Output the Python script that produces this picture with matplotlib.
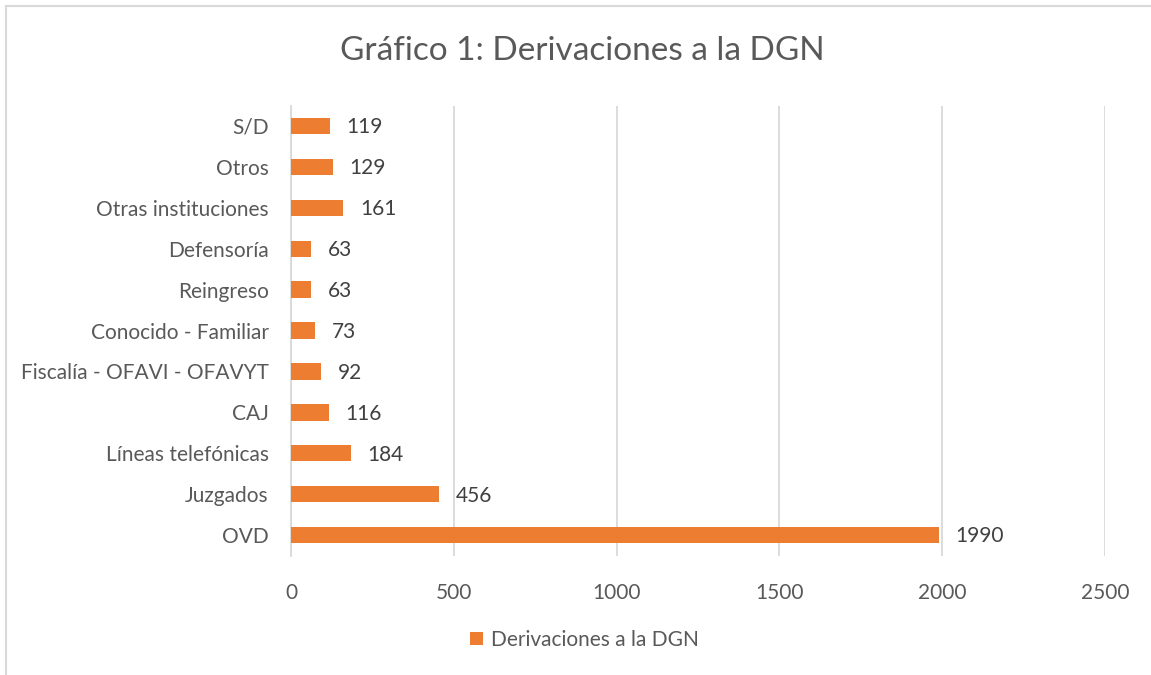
import matplotlib.pyplot as plt
from matplotlib.patches import Rectangle

# datos del gráfico (de abajo hacia arriba)
categorias = ['OVD', 'Juzgados', 'Líneas telefónicas', 'CAJ',
              'Fiscalía - OFAVI - OFAVYT', 'Conocido - Familiar', 'Reingreso',
              'Defensoría', 'Otras instituciones', 'Otros', 'S/D']
valores = [1990, 456, 184, 116, 92, 73, 63, 63, 161, 129, 119]
ticks_x = [0, 500, 1000, 1500, 2000, 2500]

naranja = '#ED7D31'
gris_texto = '#595959'
gris_linea = '#D9D9D9'

plt.rcParams['font.family'] = ['Lato', 'DejaVu Sans']

fig = plt.figure(figsize=(11.51, 6.75), dpi=100)
ax = fig.add_axes([0.2528, 0.177, 0.9600 - 0.2528, 0.8437 - 0.177])

pos = list(range(len(categorias)))
barras = ax.barh(pos, valores, height=0.4, color=naranja, zorder=3)

for y, v in zip(pos, valores):
    ax.annotate(str(v), (v, y), xytext=(12, -1), textcoords='offset points',
                va='center', ha='left', fontsize=15, color='#404040')

ax.set_xlim(0, 2500)
ax.set_ylim(-0.5, len(categorias) - 0.5)
ax.set_xticks(ticks_x)
ax.set_yticks(pos)
ax.set_yticklabels(categorias)
ax.tick_params(axis='both', length=0, labelsize=15, labelcolor=gris_texto)
ax.tick_params(axis='x', pad=20)
ax.tick_params(axis='y', pad=16)
ax.grid(axis='x', color=gris_linea, linewidth=1.3, zorder=0)
for s in ['top', 'right', 'bottom']:
    ax.spines[s].set_visible(False)
ax.spines['left'].set_color(gris_linea)
ax.spines['left'].set_linewidth(1.3)

fig.text(0.506, 0.925, 'Gráfico 1: Derivaciones a la DGN', ha='center', va='center',
         fontsize=24, color=gris_texto)

fig.legend([barras], ['Derivaciones a la DGN'], loc='center', bbox_to_anchor=(0.508, 0.052),
           frameon=False, fontsize=15, labelcolor=gris_texto, handlelength=0.6,
           handleheight=0.6, handletextpad=0.4)

# borde del área del gráfico
fig.patches.append(Rectangle((6 / 1151, -0.05), 1.1, 1 - 6 / 675 + 0.05,
                             transform=fig.transFigure, fill=False,
                             edgecolor=gris_linea, linewidth=1.5))

fig.savefig('out.png', dpi=100, facecolor='white')
